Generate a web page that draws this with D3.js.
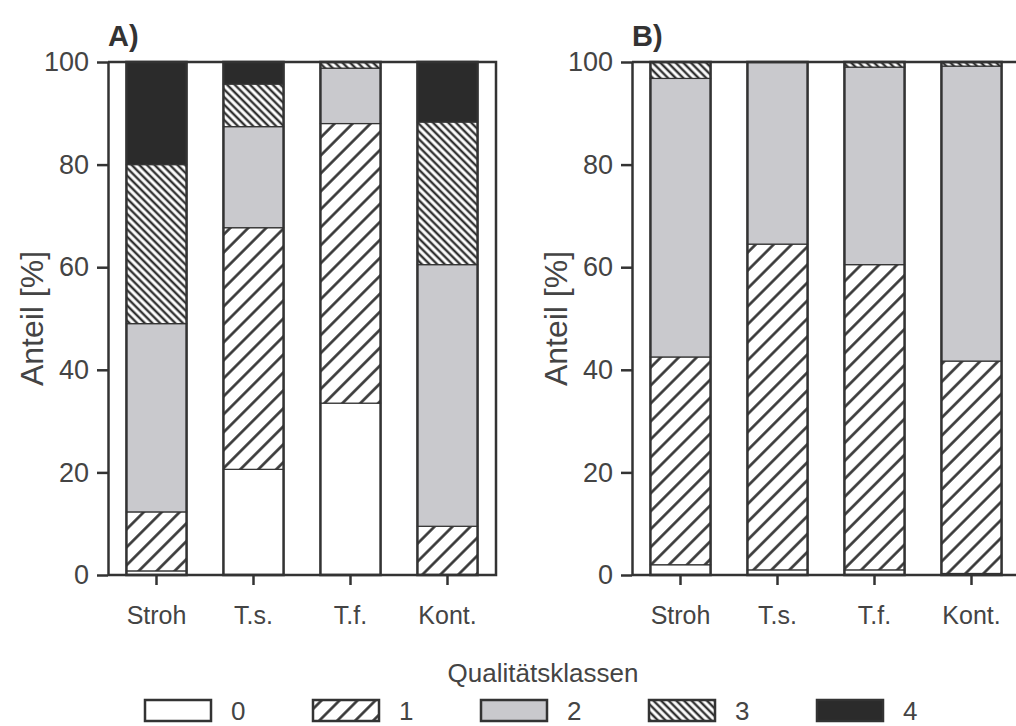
<!DOCTYPE html>
<html>
<head>
<meta charset="utf-8">
<script src="https://d3js.org/d3.v7.min.js"></script>
<style>
  body { margin: 0; background: #fff; }
  svg { font-family: "Liberation Sans", Arial, sans-serif; }
  .axis path, .axis line { stroke: #333; stroke-width: 2.5px; }
  .axis text { fill: #444; font-size: 25px; }
  .yaxis text { font-size: 27px; }
</style>
</head>
<body>
<script>

// categories and quality classes
var categories = ["Stroh", "T.s.", "T.f.", "Kont."];
var classes = ["0", "1", "2", "3", "4"];
var yTicks = [0, 20, 40, 60, 80, 100];

// panel A: share [%] of each class per category
var a0 = [0.8, 20.6, 33.5, 0];
var a1 = [11.5, 47.1, 54.5, 9.5];
var a2 = [36.7, 19.7, 10.8, 51.0];
var a3 = [31.0, 8.3, 1.2, 27.8];
var a4 = [20.0, 4.3, 0, 11.7];

// panel B
var b0 = [2.0, 1.0, 1.0, 0.3];
var b1 = [40.5, 63.5, 59.5, 41.4];
var b2 = [54.3, 35.5, 38.5, 57.5];
var b3 = [3.2, 0, 1.0, 0.8];
var b4 = [0, 0, 0, 0];

function rows(cols) {
  return categories.map(function(c, i) {
    var r = {cat: c};
    classes.forEach(function(k, j) { r[k] = cols[j][i]; });
    return r;
  });
}

var W = 1016, H = 726;
var yTop = 62, yBottom = 575, plotW = 388;

var svg = d3.select("body").append("svg")
    .attr("width", W)
    .attr("height", H);

var defs = svg.append("defs");

function hatch(id, spacing, angle, lw) {
  var p = defs.append("pattern")
      .attr("id", id)
      .attr("patternUnits", "userSpaceOnUse")
      .attr("width", spacing)
      .attr("height", spacing)
      .attr("patternTransform", "rotate(" + angle + ")");
  p.append("rect").attr("width", spacing).attr("height", spacing).attr("fill", "#fff");
  p.append("line")
      .attr("x1", spacing / 2).attr("x2", spacing / 2)
      .attr("y1", 0).attr("y2", spacing)
      .attr("stroke", "#333")
      .attr("stroke-width", lw);
}
hatch("h1", 12.7, 45, 2.6);
hatch("h3", 5.4, -45, 2.4);

var fills = {"0": "#fff", "1": "url(#h1)", "2": "#c9c9cd", "3": "url(#h3)", "4": "#2b2b2b"};

var y = d3.scaleLinear().domain([0, 100]).range([yBottom, yTop]);

var stack = d3.stack().keys(classes);

function panel(x0, label, data) {
  var g = svg.append("g").attr("transform", "translate(" + x0 + ",0)");

  var x = d3.scaleBand()
      .domain(categories)
      .range([0, plotW])
      .paddingInner(0.38)
      .paddingOuter(0.19);

  var series = stack(data);

  g.selectAll(".layer")
    .data(series)
    .join("g")
      .attr("class", "layer")
      .attr("fill", function(d) { return fills[d.key]; })
    .selectAll("rect")
    .data(function(d) { return d; })
    .join("rect")
      .attr("x", function(d) { return x(d.data.cat); })
      .attr("width", x.bandwidth())
      .attr("y", function(d) { return y(d[1]); })
      .attr("height", function(d) { return y(d[0]) - y(d[1]); })
      .attr("stroke", "#333")
      .attr("stroke-width", 1.2);

  // bar outlines
  g.selectAll(".outline")
    .data(data)
    .join("rect")
      .attr("class", "outline")
      .attr("x", function(d) { return x(d.cat); })
      .attr("width", x.bandwidth())
      .attr("y", y(100))
      .attr("height", y(0) - y(100))
      .attr("fill", "none")
      .attr("stroke", "#333")
      .attr("stroke-width", 2.5);

  // frame
  g.append("path")
      .attr("d", "M0," + yTop + "H" + plotW + "V" + yBottom + "H0")
      .attr("fill", "none")
      .attr("stroke", "#333")
      .attr("stroke-width", 2.5);

  g.append("g")
      .attr("class", "axis yaxis")
      .call(d3.axisLeft(y).tickValues(yTicks).tickSize(11).tickSizeOuter(0).tickPadding(8));

  g.append("g")
      .attr("class", "axis")
      .attr("transform", "translate(0," + yBottom + ")")
      .call(d3.axisBottom(x).tickSize(10).tickSizeOuter(0).tickPadding(21))
      .select(".domain").remove();

  g.append("text")
      .attr("x", 0)
      .attr("y", 46)
      .attr("font-size", 29)
      .attr("font-weight", "bold")
      .attr("fill", "#333")
      .text(label);

  g.append("text")
      .attr("transform", "translate(-65," + ((yTop + yBottom) / 2) + ") rotate(-90)")
      .attr("text-anchor", "middle")
      .attr("font-size", 32)
      .attr("fill", "#444")
      .text("Anteil [%]");
}

panel(108, "A)", rows([a0, a1, a2, a3, a4]));
panel(632, "B)", rows([b0, b1, b2, b3, b4]));

// legend
svg.append("text")
    .attr("x", 543)
    .attr("y", 682)
    .attr("text-anchor", "middle")
    .attr("font-size", 26)
    .attr("fill", "#444")
    .text("Qualitätsklassen");

var leg = svg.selectAll(".leg")
  .data(classes)
  .join("g")
    .attr("class", "leg")
    .attr("transform", function(d, i) { return "translate(" + (145 + i * 168) + ",700)"; });

leg.append("rect")
    .attr("width", 66)
    .attr("height", 21)
    .attr("fill", function(d) { return fills[d]; })
    .attr("stroke", "#333")
    .attr("stroke-width", 2.5);

leg.append("text")
    .attr("x", 86)
    .attr("y", 20)
    .attr("font-size", 26)
    .attr("fill", "#444")
    .text(function(d) { return d; });

</script>
</body>
</html>
